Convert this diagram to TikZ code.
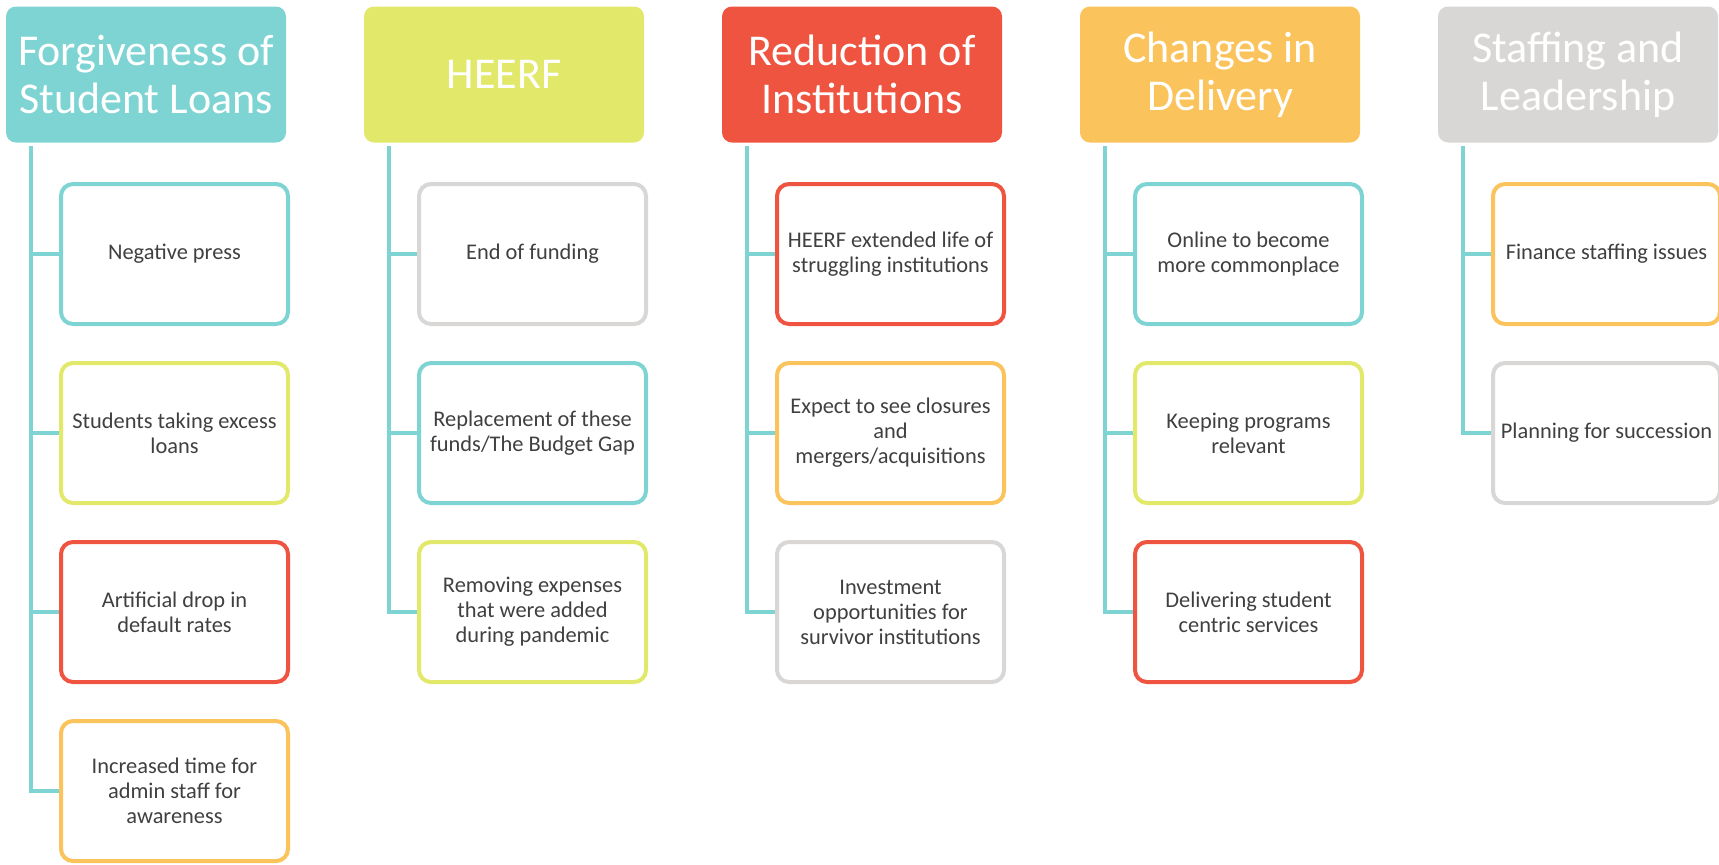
\documentclass[tikz,border=0pt]{standalone}
\usepackage{fontspec}
\setmainfont{Carlito}
\definecolor{tealc}{HTML}{7ED3D3}
\definecolor{limec}{HTML}{E2E86A}
\definecolor{redc}{HTML}{EF5441}
\definecolor{orangec}{HTML}{FAC35B}
\definecolor{grayc}{HTML}{D8D7D5}
\definecolor{txtc}{HTML}{404040}
\begin{document}
\begin{tikzpicture}[x=0.5pt, y=-0.5pt,
        head/.style={rounded corners=5pt, minimum width=140pt, minimum height=68pt,
            inner sep=0pt, align=center, text=white,
            font=\fontsize{22}{24.2}\selectfont},
        item/.style={draw=#1, line width=2pt, rounded corners=6pt, fill=white,
            minimum width=113.5pt, minimum height=70pt, inner sep=0pt,
            align=center, text=txtc, font=\fontsize{11.2}{12.5}\selectfont},
        link/.style={draw=tealc, line width=1.75pt}]
    \useasboundingbox (0,0) rectangle (1719,864);

% headers
\node[head, fill=tealc]   (h1) at (146,74.5)  {Forgiveness of\\Student Loans};
\node[head, fill=limec]   (h2) at (504,74.5)  {HEERF};
\node[head, fill=redc]    (h3) at (862,74.5)  {Reduction of\\Institutions};
\node[head, fill=orangec] (h4) at (1220,74.5) {Changes in\\Delivery};
\node[head, fill=grayc]   (h5) at (1578,74.5) {Staffing and\\Leadership};

\coordinate (t1) at (31,146);
\coordinate (t2) at (389,146);
\coordinate (t3) at (747,146);
\coordinate (t4) at (1105,146);
\coordinate (t5) at (1463,146);

% first column
\node[item=tealc]   (a1) at (174.5,254) {Negative press};
\node[item=limec]   (a2) at (174.5,433) {Students taking excess\\loans};
\node[item=redc]    (a3) at (174.5,612) {Artificial drop in\\default rates};
\node[item=orangec] (a4) at (174.5,791) {Increased time for\\admin staff for\\awareness};

% second column
\node[item=grayc] (b1) at (532.5,254) {End of funding};
\node[item=tealc] (b2) at (532.5,433) {Replacement of these\\funds/The Budget Gap};
\node[item=limec] (b3) at (532.5,612) {Removing expenses\\that were added\\during pandemic};

% third column
\node[item=redc]    (c1) at (890.5,254) {HEERF extended life of\\struggling institutions};
\node[item=orangec] (c2) at (890.5,433) {Expect to see closures\\and\\mergers/acquisitions};
\node[item=grayc]   (c3) at (890.5,612) {Investment\\opportunities for\\survivor institutions};

% fourth column
\node[item=tealc] (d1) at (1248.5,254) {Online to become\\more commonplace};
\node[item=limec] (d2) at (1248.5,433) {Keeping programs\\relevant};
\node[item=redc]  (d3) at (1248.5,612) {Delivering student\\centric services};

% fifth column
\node[item=orangec] (e1) at (1606.5,254) {Finance staffing issues};
\node[item=grayc]   (e2) at (1606.5,433) {Planning for succession};

\draw[link] (t1) |- (a1.west);
\draw[link] (t1) |- (a2.west);
\draw[link] (t1) |- (a3.west);
\draw[link] (t1) |- (a4.west);
\draw[link] (t2) |- (b1.west);
\draw[link] (t2) |- (b2.west);
\draw[link] (t2) |- (b3.west);
\draw[link] (t3) |- (c1.west);
\draw[link] (t3) |- (c2.west);
\draw[link] (t3) |- (c3.west);
\draw[link] (t4) |- (d1.west);
\draw[link] (t4) |- (d2.west);
\draw[link] (t4) |- (d3.west);
\draw[link] (t5) |- (e1.west);
\draw[link] (t5) |- (e2.west);

\end{tikzpicture}
\end{document}
